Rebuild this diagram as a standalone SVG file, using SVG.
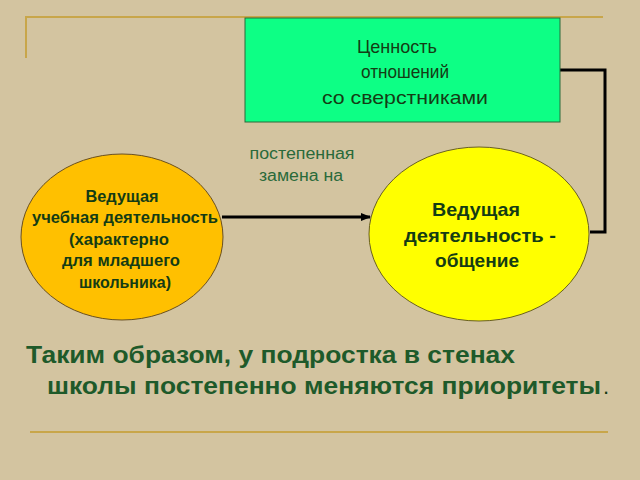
<svg xmlns="http://www.w3.org/2000/svg" width="640" height="480" viewBox="0 0 640 480">
<defs>
<marker id="ah" markerWidth="10" markerHeight="8" refX="9" refY="4" orient="auto" markerUnits="userSpaceOnUse"><path d="M0,0 L10,4 L0,8 Z" fill="#000"/></marker>
<style>
.t{font-family:"Liberation Sans",Arial,sans-serif;font-weight:bold;fill:#143c14;text-anchor:middle}
.n{font-family:"Liberation Sans",Arial,sans-serif;fill:#2a6a3a;text-anchor:middle;font-size:16px}
.deco{stroke:#c8a64a;stroke-width:2;fill:none}
</style>
</defs>
<rect width="640" height="480" fill="#d3c4a0"/>
<path class="deco" d="M26,58 V17 H603"/>
<path class="deco" d="M30,432 H608"/>
<g id="connectors" fill="none" stroke="#000" stroke-width="3">
<path d="M560,70 H605 V232 H590"/>
<path d="M222,217 H370" marker-end="url(#ah)"/>
</g>
<g id="value">
<rect x="245" y="18" width="315" height="104" fill="#0dff85" stroke="#2a6a3a" stroke-width="1"/>
<text class="t" style="font-weight:normal" font-size="19" x="397" y="53" textLength="80" lengthAdjust="spacingAndGlyphs">Ценность</text>
<text class="t" style="font-weight:normal" font-size="19" x="405" y="78" textLength="88" lengthAdjust="spacingAndGlyphs">отношений</text>
<text class="t" style="font-weight:normal" font-size="19" x="405" y="104" textLength="166" lengthAdjust="spacingAndGlyphs">со сверстниками</text>
</g>
<g id="label">
<text class="n" x="302" y="159" textLength="105" lengthAdjust="spacingAndGlyphs">постепенная</text>
<text class="n" x="301" y="181" textLength="84" lengthAdjust="spacingAndGlyphs">замена на</text>
</g>
<g id="study">
<ellipse cx="122" cy="237" rx="101" ry="83" fill="#ffc000" stroke="#6a5020" stroke-width="1"/>
<text class="t" font-size="16" x="122" y="202" textLength="73" lengthAdjust="spacingAndGlyphs">Ведущая</text>
<text class="t" font-size="16" x="125" y="223" textLength="186" lengthAdjust="spacingAndGlyphs">учебная деятельность</text>
<text class="t" font-size="16" x="119" y="245" textLength="100" lengthAdjust="spacingAndGlyphs">(характерно</text>
<text class="t" font-size="16" x="121" y="266" textLength="118" lengthAdjust="spacingAndGlyphs">для младшего</text>
<text class="t" font-size="16" x="125" y="288" textLength="92" lengthAdjust="spacingAndGlyphs">школьника)</text>
</g>
<g id="communication">
<ellipse cx="479" cy="234" rx="110" ry="87" fill="#ffff00" stroke="#6a6020" stroke-width="1"/>
<text class="t" font-size="19" x="476" y="216" textLength="88" lengthAdjust="spacingAndGlyphs">Ведущая</text>
<text class="t" font-size="19" x="480" y="242" textLength="152" lengthAdjust="spacingAndGlyphs">деятельность -</text>
<text class="t" font-size="19" x="477" y="267" textLength="84" lengthAdjust="spacingAndGlyphs">общение</text>
</g>
<text class="t" style="text-anchor:start;fill:#1e5a2a" font-size="24" x="26" y="363" textLength="489" lengthAdjust="spacingAndGlyphs">Таким образом, у подростка в стенах</text>
<text class="t" style="text-anchor:start;fill:#1e5a2a" font-size="24" x="47" y="394" textLength="554" lengthAdjust="spacingAndGlyphs">школы постепенно меняются приоритеты</text>
<text class="t" style="text-anchor:start;font-weight:normal" fill="#000" font-size="22" x="603" y="394">.</text>
</svg>
